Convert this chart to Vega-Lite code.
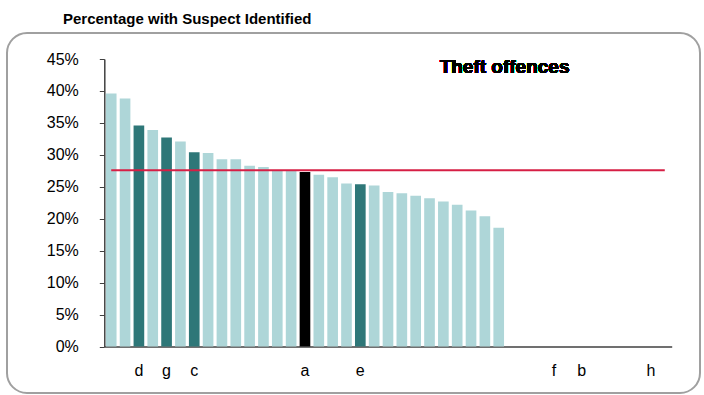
{
  "$schema": "https://vega.github.io/schema/vega-lite/v6.json",
  "width": 693,
  "height": 360,
  "autosize": {"type": "none"},
  "padding": {"left": 7, "top": 33, "right": 4, "bottom": 2},
  "background": "white",
  "config": {
    "font": "Liberation Sans",
    "view": {"stroke": "#a0a0a0", "strokeWidth": 2, "cornerRadius": 20}
  },
  "title": {
    "text": "Percentage with Suspect Identified",
    "anchor": "start",
    "frame": "group",
    "fontSize": 15,
    "fontWeight": "bold",
    "color": "#000000",
    "dx": 56,
    "dy": 15,
    "offset": 6,
    "baseline": "bottom"
  },
  "data": {
    "values": [
      {"cat": "_1", "pct": 39.6, "grp": "other", "avg": 27.6},
      {"cat": "_2", "pct": 38.8, "grp": "other", "avg": 27.6},
      {"cat": "d", "pct": 34.6, "grp": "highlight", "avg": 27.6},
      {"cat": "_4", "pct": 33.9, "grp": "other", "avg": 27.6},
      {"cat": "g", "pct": 32.7, "grp": "highlight", "avg": 27.6},
      {"cat": "_6", "pct": 32.1, "grp": "other", "avg": 27.6},
      {"cat": "c", "pct": 30.4, "grp": "highlight", "avg": 27.6},
      {"cat": "_8", "pct": 30.3, "grp": "other", "avg": 27.6},
      {"cat": "_9", "pct": 29.3, "grp": "other", "avg": 27.6},
      {"cat": "_10", "pct": 29.3, "grp": "other", "avg": 27.6},
      {"cat": "_11", "pct": 28.3, "grp": "other", "avg": 27.6},
      {"cat": "_12", "pct": 28.1, "grp": "other", "avg": 27.6},
      {"cat": "_13", "pct": 27.6, "grp": "other", "avg": 27.6},
      {"cat": "_14", "pct": 27.6, "grp": "other", "avg": 27.6},
      {"cat": "a", "pct": 27.3, "grp": "focus", "avg": 27.6},
      {"cat": "_16", "pct": 26.9, "grp": "other", "avg": 27.6},
      {"cat": "_17", "pct": 26.5, "grp": "other", "avg": 27.6},
      {"cat": "_18", "pct": 25.5, "grp": "other", "avg": 27.6},
      {"cat": "e", "pct": 25.4, "grp": "highlight", "avg": 27.6},
      {"cat": "_20", "pct": 25.2, "grp": "other", "avg": 27.6},
      {"cat": "_21", "pct": 24.2, "grp": "other", "avg": 27.6},
      {"cat": "_22", "pct": 24.0, "grp": "other", "avg": 27.6},
      {"cat": "_23", "pct": 23.6, "grp": "other", "avg": 27.6},
      {"cat": "_24", "pct": 23.2, "grp": "other", "avg": 27.6},
      {"cat": "_25", "pct": 22.7, "grp": "other", "avg": 27.6},
      {"cat": "_26", "pct": 22.2, "grp": "other", "avg": 27.6},
      {"cat": "_27", "pct": 21.3, "grp": "other", "avg": 27.6},
      {"cat": "_28", "pct": 20.4, "grp": "other", "avg": 27.6},
      {"cat": "_29", "pct": 18.6, "grp": "other", "avg": 27.6},
      {"cat": "_30", "pct": null, "grp": "other", "avg": 27.6},
      {"cat": "_31", "pct": null, "grp": "other", "avg": 27.6},
      {"cat": "_32", "pct": null, "grp": "other", "avg": 27.6},
      {"cat": "f", "pct": null, "grp": "other", "avg": 27.6},
      {"cat": "_34", "pct": null, "grp": "other", "avg": 27.6},
      {"cat": "b", "pct": null, "grp": "other", "avg": 27.6},
      {"cat": "_36", "pct": null, "grp": "other", "avg": 27.6},
      {"cat": "_37", "pct": null, "grp": "other", "avg": 27.6},
      {"cat": "_38", "pct": null, "grp": "other", "avg": 27.6},
      {"cat": "_39", "pct": null, "grp": "other", "avg": 27.6},
      {"cat": "h", "pct": null, "grp": "other", "avg": 27.6},
      {"cat": "_41", "pct": null, "grp": "other", "avg": 27.6}
    ]
  },
  "layer": [
    {
      "mark": {"type": "bar", "invalid": "break-paths-show-domains"},
      "encoding": {
        "x": {
          "field": "cat",
          "type": "nominal",
          "sort": null,
          "scale": {"range": [97.3, 664.7], "paddingInner": 0.23, "paddingOuter": 0.115},
          "axis": {
            "title": null,
            "ticks": false,
            "tickSize": 0,
            "labelAngle": 0,
            "labelFontSize": 16,
            "labelColor": "#000000",
            "labelBaseline": "alphabetic",
            "labelPadding": 29,
            "labelOverlap": false,
            "labelExpr": "indexof(datum.label, '_') == 0 ? '' : datum.label",
            "domainColor": "#404040",
            "domainWidth": 1.5,
            "offset": -46.5
          }
        },
        "y": {
          "field": "pct",
          "type": "quantitative",
          "scale": {"domain": [0, 45], "range": [313.5, 26], "nice": false, "zero": true},
          "axis": {
            "title": null,
            "values": [0, 5, 10, 15, 20, 25, 30, 35, 40, 45],
            "tickCount": 12,
            "labelExpr": "datum.value + '%'",
            "labelOverlap": false,
            "grid": false,
            "tickSize": 5,
            "tickColor": "#404040",
            "labelPadding": 21,
            "labelFontSize": 16,
            "labelColor": "#000000",
            "domainColor": "#404040",
            "domainWidth": 1.5,
            "offset": -97.3
          }
        },
        "color": {
          "field": "grp",
          "type": "nominal",
          "scale": {"domain": ["other", "highlight", "focus"], "range": ["#aed6d8", "#2e7778", "#000000"]},
          "legend": null
        }
      }
    },
    {
      "mark": {"type": "line", "color": "#d61f45", "strokeWidth": 2},
      "encoding": {
        "x": {"field": "cat", "type": "nominal", "sort": null},
        "y": {"field": "avg", "type": "quantitative"}
      }
    },
    {
      "mark": {"type": "text", "text": "Theft offences", "fontSize": 19, "fontWeight": "bold", "align": "left", "baseline": "alphabetic", "color": "#000000"},
      "encoding": {
        "x": {"datum": "_25", "type": "nominal", "bandPosition": 0.15},
        "y": {"datum": 42.76, "type": "quantitative"}
      }
    }
  ]
}
